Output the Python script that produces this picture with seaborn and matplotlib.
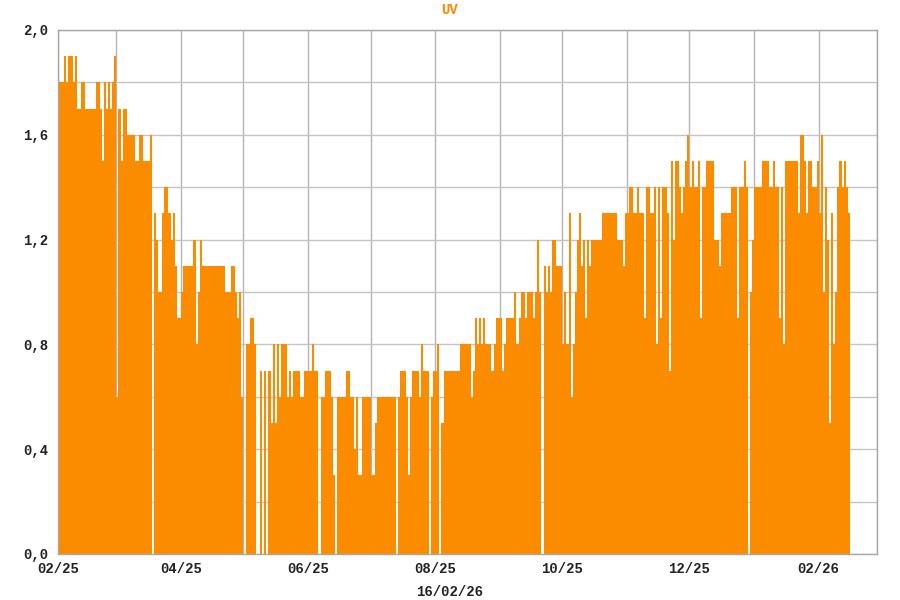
import matplotlib
matplotlib.use("Agg")
import pandas as pd
import matplotlib.pyplot as plt
import seaborn as sns

# daily UV index, 01/02/25 .. 15/02/26 (0 = no reading)
uv = [
    1.8, 1.8, 1.8, 1.9, 1.8, 1.9, 1.9, 1.8, 1.9, 1.7,
    1.7, 1.8, 1.8, 1.7, 1.7, 1.7, 1.7, 1.7, 1.8, 1.8,
    1.7, 1.5, 1.8, 1.7, 1.8, 1.7, 1.8, 1.9, 0.6, 1.7,
    1.5, 1.7, 1.7, 1.6, 1.6, 1.6, 1.6, 1.5, 1.5, 1.6,
    1.6, 1.5, 1.5, 1.5, 1.6, 0.0, 1.3, 1.2, 1.0, 1.0,
    1.3, 1.4, 1.4, 1.3, 1.2, 1.3, 1.1, 0.9, 0.9, 1.0,
    1.1, 1.1, 1.1, 1.1, 1.1, 1.2, 0.8, 1.0, 1.2, 1.1,
    1.1, 1.1, 1.1, 1.1, 1.1, 1.1, 1.1, 1.1, 1.1, 1.1,
    1.0, 1.0, 1.0, 1.1, 1.1, 1.0, 0.9, 1.0, 0.6, 0.0,
    0.8, 0.8, 0.9, 0.9, 0.8, 0.0, 0.0, 0.7, 0.0, 0.7,
    0.0, 0.7, 0.5, 0.8, 0.5, 0.8, 0.6, 0.8, 0.8, 0.8,
    0.6, 0.7, 0.6, 0.7, 0.7, 0.7, 0.6, 0.6, 0.7, 0.7,
    0.7, 0.7, 0.8, 0.7, 0.7, 0.0, 0.6, 0.6, 0.7, 0.7,
    0.7, 0.6, 0.3, 0.0, 0.6, 0.6, 0.6, 0.6, 0.7, 0.7,
    0.6, 0.6, 0.4, 0.6, 0.3, 0.3, 0.6, 0.6, 0.6, 0.6,
    0.3, 0.3, 0.5, 0.6, 0.6, 0.6, 0.6, 0.6, 0.6, 0.6,
    0.6, 0.6, 0.0, 0.6, 0.7, 0.7, 0.7, 0.6, 0.3, 0.6,
    0.7, 0.7, 0.7, 0.6, 0.8, 0.7, 0.7, 0.7, 0.0, 0.6,
    0.7, 0.7, 0.8, 0.0, 0.5, 0.7, 0.7, 0.7, 0.7, 0.7,
    0.7, 0.7, 0.7, 0.8, 0.8, 0.8, 0.8, 0.8, 0.6, 0.7,
    0.9, 0.8, 0.9, 0.8, 0.9, 0.8, 0.8, 0.8, 0.7, 0.8,
    0.9, 0.9, 0.9, 0.7, 0.8, 0.9, 0.9, 0.9, 0.9, 1.0,
    0.8, 0.9, 1.0, 1.0, 0.9, 1.0, 1.0, 1.0, 0.9, 1.0,
    1.2, 1.0, 0.0, 1.1, 1.0, 1.1, 1.0, 1.2, 1.2, 1.1,
    1.1, 1.1, 0.8, 1.0, 0.8, 1.3, 0.6, 0.8, 1.0, 1.2,
    1.3, 1.1, 1.2, 0.9, 1.2, 1.1, 1.2, 1.2, 1.2, 1.2,
    1.2, 1.3, 1.3, 1.3, 1.3, 1.3, 1.3, 1.3, 1.2, 1.2,
    1.2, 1.1, 1.3, 1.3, 1.4, 1.4, 1.3, 1.3, 1.4, 1.3,
    1.3, 0.9, 1.4, 1.4, 1.3, 1.3, 1.4, 0.8, 1.4, 0.9,
    1.4, 1.4, 1.3, 0.7, 1.5, 1.2, 1.5, 1.5, 1.4, 1.3,
    1.4, 1.5, 1.6, 1.4, 1.5, 1.4, 1.4, 1.5, 0.9, 1.4,
    1.4, 1.5, 1.5, 1.5, 1.5, 1.2, 1.2, 1.1, 1.3, 1.3,
    1.3, 1.3, 1.3, 1.4, 1.4, 1.4, 0.9, 1.4, 1.4, 1.5,
    1.4, 0.0, 1.0, 1.2, 1.4, 1.4, 1.4, 1.4, 1.5, 1.5,
    1.5, 1.4, 1.4, 1.5, 1.4, 1.4, 0.9, 1.4, 0.8, 1.5,
    1.5, 1.5, 1.5, 1.5, 1.5, 1.3, 1.6, 1.6, 1.5, 1.3,
    1.5, 1.5, 1.4, 1.4, 1.5, 1.3, 1.6, 1.0, 1.4, 1.2,
    0.5, 1.3, 0.8, 1.0, 1.4, 1.5, 1.4, 1.5, 1.4, 1.3,
]
start_date = "2025-02-01"
end_axis = "2026-03-01"
y_major = [0.0, 0.4, 0.8, 1.2, 1.6, 2.0]
y_labels = ["0,0", "0,4", "0,8", "1,2", "1,6", "2,0"]
y_minor = [0.2, 0.6, 1.0, 1.4, 1.8]
title = "UV"
footer = "16/02/26"

orange = "#fb8c00"
dates = pd.date_range(start_date, periods=len(uv), freq="D")
df = pd.DataFrame({"day": (dates - dates[0]).days + 0.5, "uv": uv})
months = pd.date_range(start_date, end_axis, freq="MS")
month_pos = list((months - dates[0]).days)
month_lab = [m.strftime("%m/%y") for m in months]

sns.set_theme(style="white")
plt.rcParams["font.family"] = ["Liberation Mono", "DejaVu Sans Mono"]

fig = plt.figure(figsize=(9, 6), dpi=100)
ax = fig.add_axes([58 / 900, 46 / 600, 819 / 900, 524 / 600])

sns.barplot(data=df, x="day", y="uv", native_scale=True, width=1,
            color=orange, saturation=1, errorbar=None, linewidth=0, ax=ax)

ax.set_xlim(0, month_pos[-1])
ax.set_ylim(0, 2.0)
ax.set_xticks(month_pos[::2], month_lab[::2])
ax.set_xticks(month_pos[1::2], minor=True)
ax.set_yticks(y_major, y_labels)
ax.set_yticks(y_minor, minor=True)
ax.set_xlabel("")
ax.set_ylabel("")
ax.set_axisbelow(True)
ax.grid(True, which="both", axis="x", color="#b4b4b4", lw=1)
ax.grid(True, which="both", axis="y", color="#c4c4c4", lw=1)
ax.tick_params(which="both", length=0, labelsize=10, labelcolor="#222222")
ax.tick_params(axis="x", pad=6)
ax.tick_params(axis="y", pad=7)
for lab in ax.get_xticklabels() + ax.get_yticklabels():
    lab.set_fontweight("bold")
for sp in ax.spines.values():
    sp.set_color("#a8a8a8")
    sp.set_linewidth(1)

fig.text(0.5, 1 - 10 / 600, title, ha="center", va="center",
         color=orange, fontsize=10, fontweight="bold")
fig.text(0.5, 1 - 592 / 600, footer, ha="center", va="center",
         color="#222222", fontsize=10, fontweight="bold")

fig.savefig("out.png", dpi=100, facecolor="white")
